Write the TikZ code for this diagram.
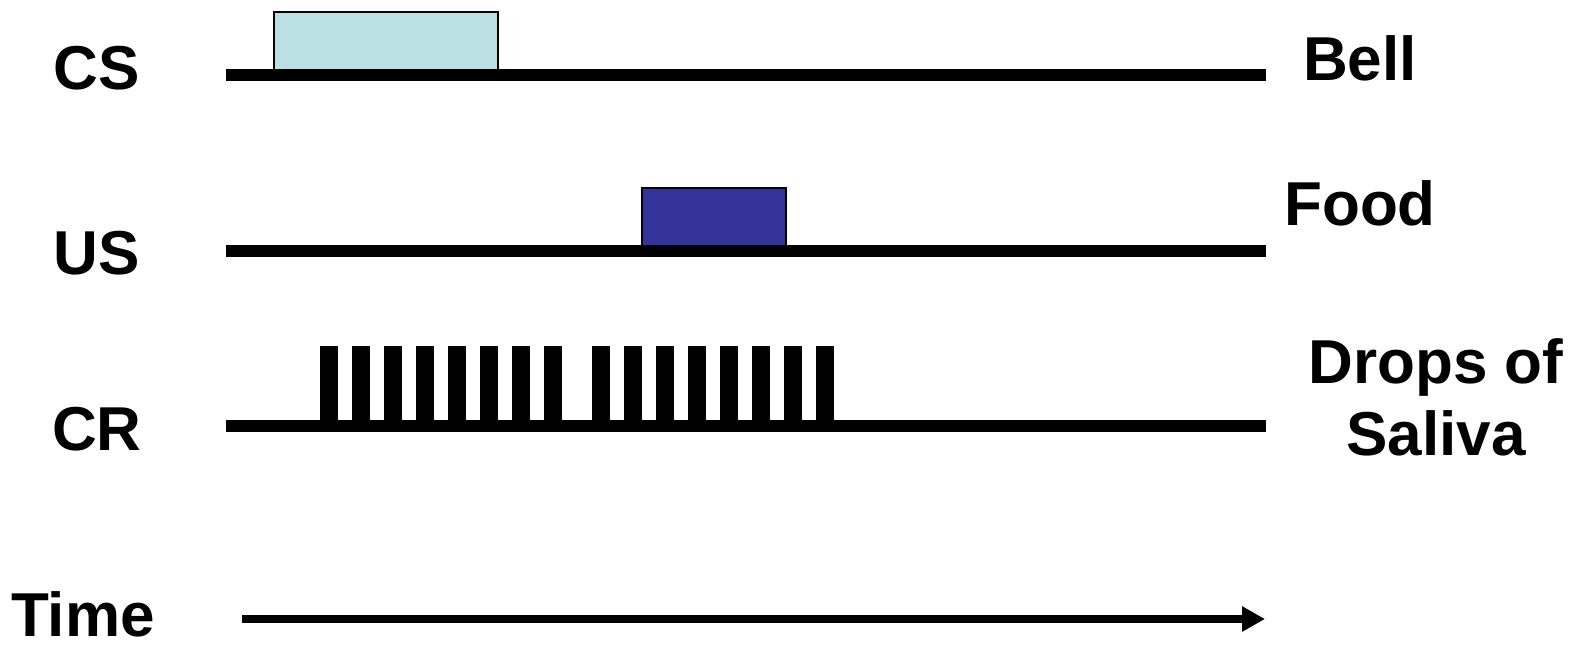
\documentclass[tikz,border=0pt]{standalone}
\usepackage{fontspec}
\setmainfont{Liberation Sans}
\usetikzlibrary{arrows.meta}
\definecolor{bellcol}{HTML}{BAE0E3}
\definecolor{foodcol}{HTML}{333399}
\begin{document}
\begin{tikzpicture}[x=1pt, y=-1pt, semithick]
    \tikzset{lbl/.style={font=\fontsize{62}{72}\selectfont\bfseries, inner sep=0pt, anchor=base},
             tline/.style={-, line width=12pt},
             stimbox/.style={draw=black, line width=2pt, inner sep=0pt, anchor=north west}};
    \useasboundingbox (0,0) rectangle (1580,646);
    % line ends
    \coordinate (csL) at (226,75);
    \coordinate (csR) at (1266,75);
    \coordinate (usL) at (226,250.5);
    \coordinate (usR) at (1266,250.5);
    \coordinate (crL) at (226,426);
    \coordinate (crR) at (1266,426);
    \coordinate (tL) at (242,619);
    \coordinate (tR) at (1265,619);
    % stimuli
    \node[stimbox, fill=bellcol, minimum width=224pt, minimum height=64pt] (bellbox) at (273,11) {};
    \node[stimbox, fill=foodcol, minimum width=144pt, minimum height=63pt] (foodbox) at (641,187) {};
    % drops
    \foreach \x in {320,352,...,544,592,624,...,816}
      \fill (\x,346) rectangle ++(18,80);
    {
      \path
        (csL) edge[tline] (csR)
        (usL) edge[tline] (usR)
        (crL) edge[tline] (crR)
        ;
      }
    \draw[-{Triangle[length=23pt,width=24pt]}, line width=8pt] (tL) -- (tR);
    % labels
    \node[lbl] (cs) at (97,89) {CS};
    \node[lbl] (us) at (97,274) {US};
    \node[lbl] (cr) at (97,450) {CR};
    \node[lbl] (time) at (83,636) {Time};
    \node[lbl] (bell) at (1360,80) {Bell};
    \node[lbl] (food) at (1360,225) {Food};
    \node[lbl] (drops) at (1436,383) {Drops of};
    \node[lbl] (saliva) at (1436,455) {Saliva};
\end{tikzpicture}
\end{document}
